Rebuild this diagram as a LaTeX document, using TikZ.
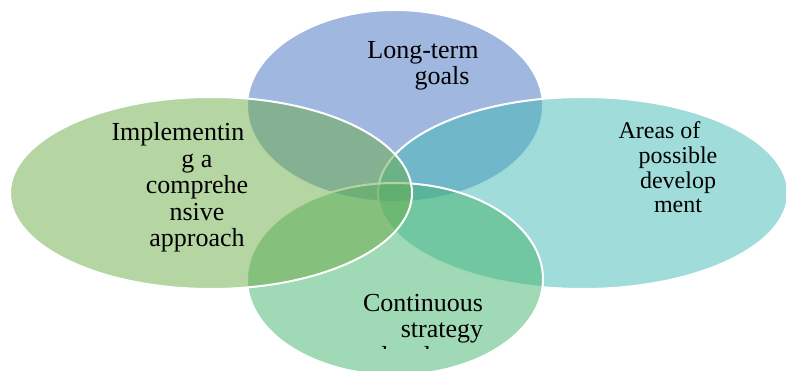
\documentclass[tikz,border=0pt]{standalone}
\usepackage{fontspec}
\setmainfont{Liberation Serif}
\definecolor{goalblue}{RGB}{65,111,193}
\definecolor{approachgreen}{RGB}{107,171,71}
\definecolor{areateal}{RGB}{65,185,181}
\definecolor{strategygreen}{RGB}{65,179,107}
\tikzset{petal/.style={draw=white, line width=2pt, fill opacity=0.5},
         petaltext/.style={align=center, anchor=base, inner sep=0pt, text=black, font=\fontsize{26}{26.5}\selectfont}}

\begin{document}
\begin{tikzpicture}[x=1pt,y=-1pt]
\useasboundingbox (0,0) rectangle (786,371);
\clip (0,0) rectangle (786,371);
\draw [petal, fill=goalblue] (395,106) ellipse [x radius=148, y radius=96];
\draw [petal, fill=areateal] (583,193) ellipse [x radius=205, y radius=96];
\draw [petal, fill=strategygreen] (395,279) ellipse [x radius=148, y radius=96];
\draw [petal, fill=approachgreen] (211,193) ellipse [x radius=201, y radius=96];
% anchor base sits on the last line
\node [petaltext] (goals) at (442,85) {Long-term\hspace*{38pt}\\goals};
\node [petaltext] (approach) at (197,247) {Implementin\hspace*{38pt}\\g a\\comprehe\\nsive\\approach};
\node [petaltext, font=\fontsize{24}{24.7}\selectfont] (areas) at (678,213) {Areas of\hspace*{37pt}\\possible\\develop\\ment};
\begin{scope}
\clip (0,0) rectangle (786,348);
\node [petaltext] (strategy) at (442,364) {Continuous\hspace*{38pt}\\strategy\\development};
\end{scope}
\end{tikzpicture}
\end{document}
